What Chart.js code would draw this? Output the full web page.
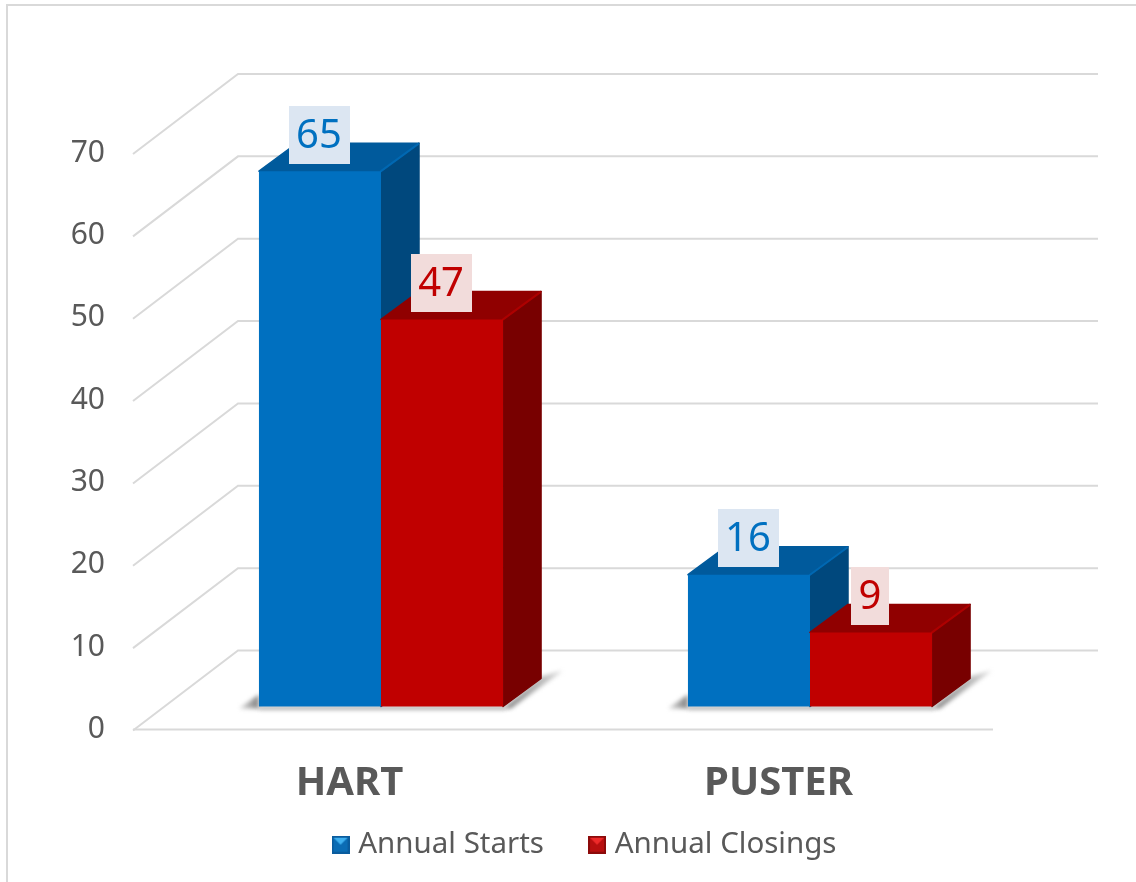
<!DOCTYPE html>
<html>
<head>
<meta charset="utf-8">
<style>
  html, body { margin: 0; padding: 0; background: #fff; overflow: hidden; }
  #wrap { position: absolute; left: 0; top: 0; width: 1136px; height: 882px; }
  #frame { position: absolute; left: 6px; top: 4px; right: -4px; bottom: -4px; border: 2px solid #d9d9d9; }
</style>
<script src="https://cdn.jsdelivr.net/npm/chart.js@4"></script>
</head>
<body>
<div id="wrap">
  <div id="frame"></div>
  <canvas id="myChart" width="1136" height="882" style="position:absolute;left:0;top:0"></canvas>
</div>
<script>
// data
var categories = ['HART', 'PUSTER'];
var annualStarts = [65, 16];
var annualClosings = [47, 9];

var fontName = '"Noto Sans", sans-serif';
var textColor = '#595959';
var gridColor = '#d9d9d9';

// offset of the bars and of the back wall from the front plane of the axes
var barShift = { x: 31.5, y: -23 };
var barDepth = { x: 38, y: -28 };
var wallDepth = { x: 103, y: -79 };

var seriesStyle = [
  { front: '#0070c0', top: '#005a9c', side: '#00487d', bevel: '#0068b2', text: '#0070c0', box: '#dce6f2' },
  { front: '#c00000', top: '#900000', side: '#780000', bevel: '#ad0000', text: '#c00000', box: '#f2dcdb' }
];

// little legend squares with the lit top facet
function legendMarker(dark, mid, light) {
  var c = document.createElement('canvas');
  c.width = 18;
  c.height = 18;
  var g = c.getContext('2d');
  g.fillStyle = dark;
  g.fillRect(0, 0, 18, 18);
  g.fillStyle = mid;
  g.fillRect(2, 2, 14, 14);
  g.fillStyle = light;
  g.beginPath();
  g.moveTo(2, 2);
  g.lineTo(16, 2);
  g.lineTo(9, 9);
  g.closePath();
  g.fill();
  return c;
}
var markers = [
  legendMarker('#0a5c9e', '#0b6cb4', '#3fb0f0'),
  legendMarker('#8c0a0a', '#b80f0f', '#ee2a2a')
];

function poly(ctx, pts, fill, round) {
  ctx.fillStyle = fill;
  ctx.beginPath();
  ctx.moveTo(pts[0][0], pts[0][1]);
  for (var i = 1; i < pts.length; i++) ctx.lineTo(pts[i][0], pts[i][1]);
  ctx.closePath();
  ctx.fill();
  if (round) {
    ctx.strokeStyle = fill;
    ctx.lineWidth = 1.5;
    ctx.lineJoin = 'round';
    ctx.stroke();
  }
}

var bar3d = {
  id: 'bar3d',
  afterLayout: function (chart) {
    // the legend sits off centre and closer to the axis labels in the picture
    chart.legend.left = 38;
    chart.legend.right = 1136;
    chart.legend.top = 830 - chart.options.plugins.legend.labels.padding;
    // x labels are clipped to the scale box, let it run to the bottom
    chart.scales.x.bottom = chart.height;
  },
  beforeDatasetsDraw: function (chart) {
    var ctx = chart.ctx;
    var y = chart.scales.y;
    var x = chart.scales.x;
    ctx.save();

    // back wall, left wall and floor lines
    ctx.strokeStyle = gridColor;
    ctx.lineWidth = 2;
    y.ticks.forEach(function (t) {
      var py = y.getPixelForValue(t.value);
      ctx.beginPath();
      ctx.moveTo(x.left - 2, py + 1);
      ctx.lineTo(x.left + wallDepth.x, py + wallDepth.y);
      ctx.lineTo(1098, py + wallDepth.y);
      ctx.stroke();
    });
    ctx.beginPath();
    ctx.moveTo(x.left - 2, y.bottom);
    ctx.lineTo(x.right, y.bottom);
    ctx.stroke();

    // ground shadows
    var m0 = chart.getDatasetMeta(0).data;
    var m1 = chart.getDatasetMeta(1).data;
    ctx.filter = 'blur(2px)';
    for (var i = 0; i < m0.length; i++) {
      var l = m0[i].x - m0[i].width / 2 + barShift.x;
      var r = m1[i].x + m1[i].width / 2 + barShift.x;
      var b = m0[i].base + barShift.y;
      var gr = ctx.createLinearGradient(r, 0, r + 58, 0);
      gr.addColorStop(0, '#808080');
      gr.addColorStop(1, '#d8d8d8');
      poly(ctx, [[r, b + 2], [r + 38, b - 30], [r + 60, b - 36], [r + 8, b + 2]], gr);
      var gl = ctx.createLinearGradient(l - 19, 0, l, 0);
      gl.addColorStop(0, '#d8d8d8');
      gl.addColorStop(1, '#808080');
      poly(ctx, [[l - 20, b + 2], [l, b - 12], [l, b + 2]], gl);
      poly(ctx, [[l, b], [r + 2, b], [r + 2, b + 3], [l, b + 3]], '#9a9a9a');
    }
    ctx.filter = 'none';
    ctx.restore();

    // series have to go left to right, so the later bars cover the earlier side faces
    chart.data.datasets.forEach(function (ds, d) {
      var meta = chart.getDatasetMeta(d);
      var st = seriesStyle[d];
      meta.data.forEach(function (el) {
        var l = el.x - el.width / 2 + barShift.x;
        var r = el.x + el.width / 2 + barShift.x;
        var t = el.y + barShift.y;
        var b = el.base + barShift.y;
        var dx = barDepth.x;
        var dy = barDepth.y;
        poly(ctx, [[r, t], [r + dx, t + dy], [r + dx, b + dy], [r, b]], st.side, true);
        poly(ctx, [[l, t], [l + dx, t + dy], [r + dx, t + dy], [r, t]], st.top, true);
        ctx.save();
        ctx.strokeStyle = st.bevel;
        ctx.lineWidth = 2;
        ctx.lineCap = 'round';
        ctx.beginPath();
        ctx.moveTo(r, t);
        ctx.lineTo(r + dx - 1, t + dy + 1);
        ctx.stroke();
        ctx.restore();
      });
      // front faces are the library's own bars, moved to the bar plane
      ctx.save();
      ctx.translate(barShift.x, barShift.y);
      meta.controller.draw();
      ctx.restore();
    });
  },
  beforeDatasetDraw: function () {
    return false;
  },
  afterDatasetsDraw: function (chart) {
    var ctx = chart.ctx;
    ctx.save();
    ctx.font = '40px ' + fontName;
    ctx.textAlign = 'center';
    ctx.textBaseline = 'middle';
    chart.data.datasets.forEach(function (ds, d) {
      var st = seriesStyle[d];
      chart.getDatasetMeta(d).data.forEach(function (el, i) {
        var txt = String(ds.data[i]);
        var w = ctx.measureText(txt).width + 15;
        var cx = el.x + barShift.x - 1;
        var cy = el.y + barShift.y - 37;
        ctx.fillStyle = st.box;
        ctx.fillRect(Math.round(cx - w / 2), Math.round(cy - 28.5), Math.round(w), 58);
        ctx.fillStyle = st.text;
        ctx.fillText(txt, cx, cy + 2);
      });
    });
    ctx.restore();
  }
};

var chartArea = document.getElementById('myChart').getContext('2d');
var myChart = new Chart(chartArea, {
  type: 'bar',
  data: {
    labels: categories,
    datasets: [
      { label: 'Annual Starts', data: annualStarts, backgroundColor: seriesStyle[0].front },
      { label: 'Annual Closings', data: annualClosings, backgroundColor: seriesStyle[1].front }
    ]
  },
  plugins: [bar3d],
  options: {
    responsive: false,
    animation: false,
    layout: { padding: { top: 153, right: 143, bottom: 0, left: 0 } },
    datasets: { bar: { categoryPercentage: 0.569, barPercentage: 1, borderWidth: 0 } },
    scales: {
      x: {
        afterFit: function (scale) { scale.height = 63; },
        grid: { display: false, drawTicks: false },
        border: { display: false },
        ticks: { color: textColor, padding: 30, font: { family: fontName, size: 40, weight: 'bold' }, maxRotation: 0 }
      },
      y: {
        min: 0,
        max: 70,
        afterFit: function (scale) { scale.width = 135; },
        grid: { display: false, drawTicks: false },
        border: { display: false },
        ticks: { stepSize: 10, color: textColor, padding: 30, labelOffset: 0, font: { family: fontName, size: 30 } }
      }
    },
    plugins: {
      tooltip: { enabled: false },
      legend: {
        position: 'bottom',
        labels: {
          color: textColor,
          font: { family: fontName, size: 29.5 },
          usePointStyle: true,
          boxWidth: 6,
          boxHeight: 12,
          pointStyleWidth: 6,
          padding: 50,
          generateLabels: function (chart) {
            var items = Chart.defaults.plugins.legend.labels.generateLabels(chart);
            items.forEach(function (it, i) { it.pointStyle = markers[i]; });
            return items;
          }
        }
      }
    }
  }
});
</script>
</body>
</html>
